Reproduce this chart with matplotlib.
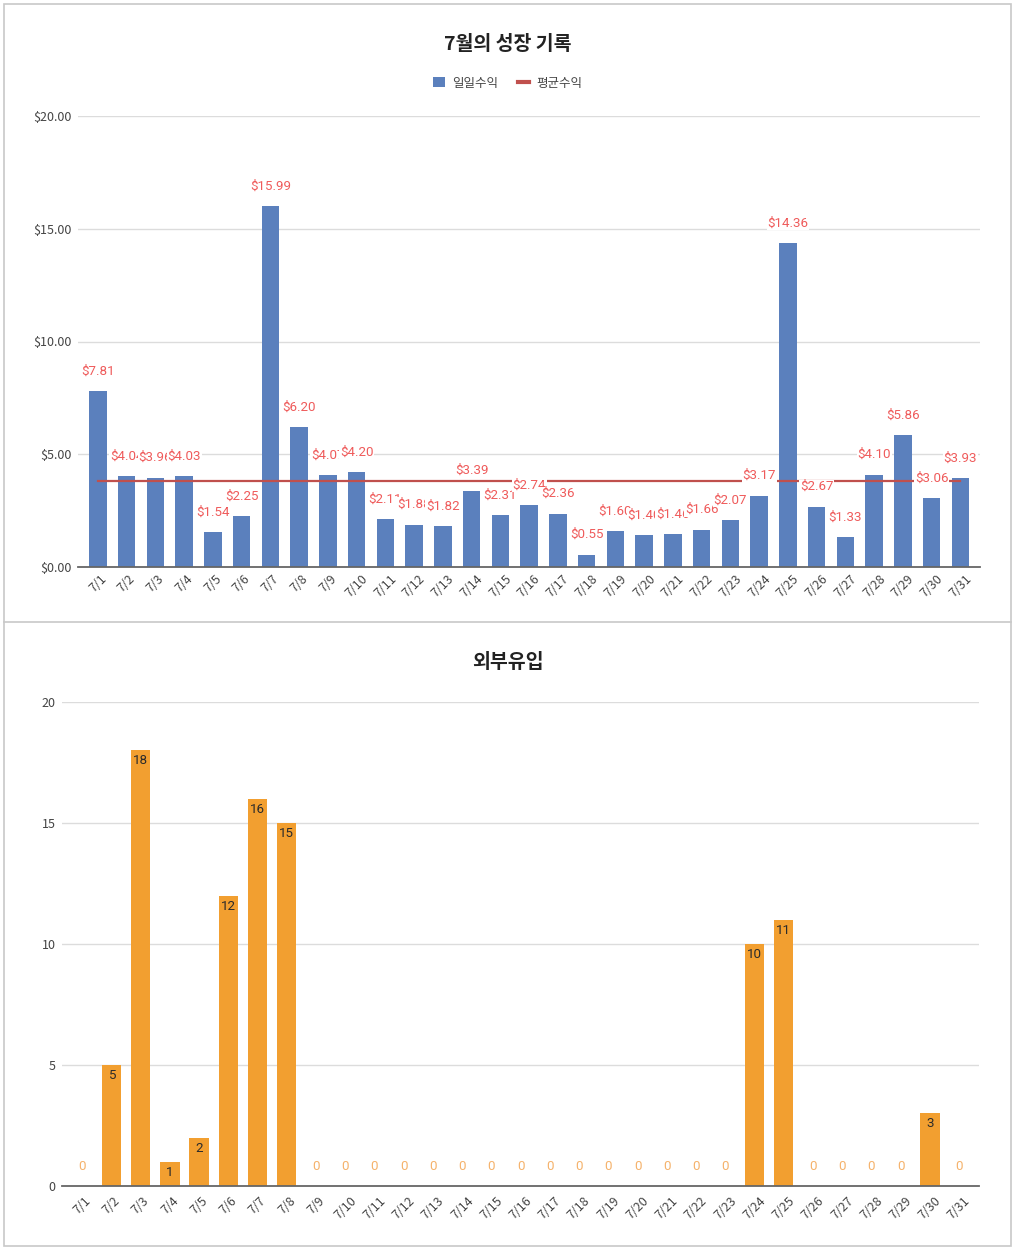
import matplotlib
matplotlib.use("Agg")
import matplotlib.pyplot as plt
from matplotlib.patches import Patch, Rectangle
from matplotlib.lines import Line2D

plt.rcParams['font.family'] = ['Noto Sans CJK KR', 'DejaVu Sans']

# data
days = ["7/%d" % d for d in range(1, 32)]
revenue = [7.81, 4.04, 3.96, 4.03, 1.54, 2.25, 15.99, 6.20, 4.07, 4.20,
           2.11, 1.88, 1.82, 3.39, 2.31, 2.74, 2.36, 0.55, 1.60, 1.40,
           1.46, 1.66, 2.07, 3.17, 14.36, 2.67, 1.33, 4.10, 5.86, 3.06, 3.93]
avg_revenue = 3.80
inflow = [0, 5, 18, 1, 2, 12, 16, 15, 0, 0,
          0, 0, 0, 0, 0, 0, 0, 0, 0, 0,
          0, 0, 0, 10, 11, 0, 0, 0, 0, 3, 0]
rev_ticks = [0, 5, 10, 15, 20]
rev_ticklabels = ["$0.00", "$5.00", "$10.00", "$15.00", "$20.00"]
inflow_ticks = [0, 5, 10, 15, 20]

blue = "#5b80bd"
red_line = "#c0504d"
red_text = "#ef5b5b"
orange = "#f29f30"
zero_text = "#f5b26b"
grid = "#dcdcdc"
axis_col = "#666666"
tick_col = "#444444"

W, H = 1016, 1250
fig = plt.figure(figsize=(W / 100, H / 100), dpi=100)


def px_axes(left, top, right, bottom):
    return fig.add_axes([left / W, 1 - bottom / H, (right - left) / W, (bottom - top) / H])


def style(ax, ticks, labels, ylim, tpad):
    ax.set_xlim(-0.69, 30.68)
    ax.set_ylim(*ylim)
    ax.set_yticks(ticks)
    ax.set_yticklabels(labels)
    ax.set_xticks(range(len(days)))
    ax.set_xticklabels(days, rotation=45, ha="center", va="top")
    for s in ["left", "right", "top"]:
        ax.spines[s].set_visible(False)
    ax.spines["bottom"].set_color(axis_col)
    ax.spines["bottom"].set_linewidth(1.3)
    ax.spines["bottom"].set_zorder(5)
    ax.tick_params(axis="both", length=0, labelsize=9, colors=tick_col)
    ax.tick_params(axis="y", pad=4.5)
    ax.tick_params(axis="x", pad=tpad)
    ax.grid(True, axis="y", color=grid, linewidth=1)
    ax.set_axisbelow(True)


# top chart: daily revenue
ax1 = px_axes(78, 116, 980, 567)
style(ax1, rev_ticks, rev_ticklabels, (0, 20), 4)
x = range(len(days))
ax1.bar(x, revenue, width=0.61, color=blue, zorder=2)
ax1.plot([0, len(days) - 1], [avg_revenue, avg_revenue], color=red_line,
         linewidth=1.6, zorder=3)
for i, v in enumerate(revenue):
    ax1.annotate("${:.2f}".format(v), (i, v), xytext=(0, 14.4),
                 textcoords="offset points", ha="center", va="center",
                 fontsize=9.6, color=red_text, family=["Roboto", "DejaVu Sans"],
                 bbox=dict(boxstyle="square,pad=0.05", fc="white", ec="none"),
                 zorder=4 + i * 0.01)

fig.text(508 / W, 1 - 45 / H, "7월의 성장 기록", ha="center", va="center",
         fontsize=14, fontweight="bold", color="#222222")
handles = [Patch(facecolor=blue, edgecolor="none"),
           Line2D([0], [0], color=red_line, linewidth=3)]
fig.legend(handles, ["일일수익", "평균수익"], loc="center",
           bbox_to_anchor=(508 / W, 1 - 83 / H), ncol=2, frameon=False,
           fontsize=9, handlelength=0.9, handleheight=0.9, columnspacing=1.6,
           handletextpad=0.6, labelcolor="#444444")

# bottom chart: external inflow
ax2 = px_axes(62, 702, 979, 1186)
style(ax2, inflow_ticks, [str(t) for t in inflow_ticks], (0, 20), 6)
ax2.bar(x, inflow, width=0.66, color=orange, zorder=2)
for i, v in enumerate(inflow):
    if v == 0:
        ax2.annotate("0", (i, v), xytext=(0, 14.4), textcoords="offset points",
                     ha="center", va="center", fontsize=9.6, color=zero_text,
                     family=["Roboto", "DejaVu Sans"])
    else:
        ax2.annotate(str(v), (i, v), xytext=(0, -7.5), textcoords="offset points",
                     ha="center", va="center", fontsize=9.6, color="#2b2b2b",
                     family=["Roboto", "DejaVu Sans"])

fig.text(508 / W, 1 - 662 / H, "외부유입", ha="center", va="center",
         fontsize=14, fontweight="bold", color="#222222")

# card borders
border = "#c8c8c8"
fig.add_artist(Rectangle((4 / W, 1 - 1246 / H), 1007 / W, 1242 / H,
                         transform=fig.transFigure, fill=False,
                         edgecolor=border, linewidth=1.2))
fig.add_artist(Line2D([4 / W, 1011 / W], [1 - 622 / H, 1 - 622 / H],
                      transform=fig.transFigure, color=border, linewidth=1.2))

fig.savefig("out.png", dpi=100, facecolor="white")
